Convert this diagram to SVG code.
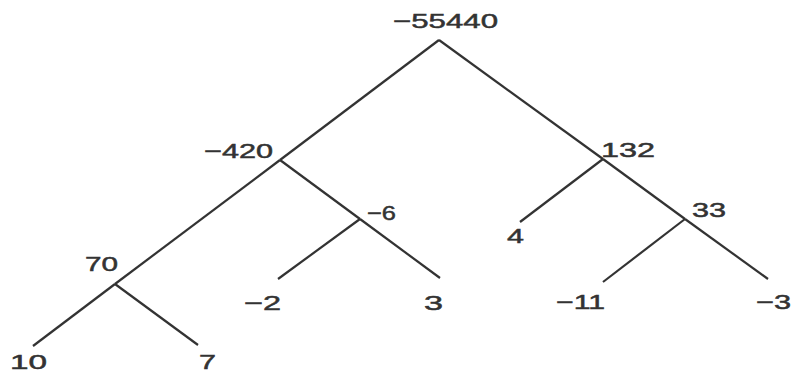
<svg xmlns="http://www.w3.org/2000/svg" width="792" height="373" viewBox="0 0 792 373">
<style>
.bg{fill:#ffffff}
.lbl{font-family:"Liberation Sans",Arial,sans-serif;font-size:21px;fill:#333333;stroke:#333333;stroke-width:0.5}
.edge{stroke:#333333;stroke-width:2.2;fill:none;stroke-linecap:butt}
</style>
<rect class="bg" x="0" y="0" width="792" height="373"/>
<g id="connectors">
<line class="edge" x1="439" y1="40" x2="280" y2="160"/>
<line class="edge" x1="280" y1="160" x2="115" y2="284"/>
<line class="edge" x1="115" y1="284" x2="33" y2="346"/>
<line class="edge" x1="115" y1="284" x2="198" y2="345"/>
<line class="edge" x1="280" y1="160" x2="360" y2="219"/>
<line class="edge" x1="360" y1="219" x2="440" y2="278"/>
<line class="edge" x1="360" y1="219" x2="278" y2="279"/>
<line class="edge" x1="439" y1="40" x2="603" y2="159"/>
<line class="edge" x1="603" y1="159" x2="685" y2="219"/>
<line class="edge" x1="685" y1="219" x2="768" y2="279"/>
<line class="edge" x1="603" y1="159" x2="520" y2="222"/>
<line class="edge" x1="685" y1="219" x2="603" y2="282"/>
</g>
<g id="n-55440"><text class="lbl" x="393" y="28" textLength="105" lengthAdjust="spacingAndGlyphs">−55440</text></g>
<g id="n-420"><text class="lbl" x="204" y="158" textLength="69" lengthAdjust="spacingAndGlyphs">−420</text></g>
<g id="n132"><text class="lbl" x="601" y="157" textLength="54" lengthAdjust="spacingAndGlyphs">132</text></g>
<g id="n70"><text class="lbl" x="85" y="271" textLength="33" lengthAdjust="spacingAndGlyphs">70</text></g>
<g id="n-6"><text class="lbl" x="367" y="220" textLength="29" lengthAdjust="spacingAndGlyphs">−6</text></g>
<g id="n4"><text class="lbl" x="507" y="243" textLength="17" lengthAdjust="spacingAndGlyphs">4</text></g>
<g id="n33"><text class="lbl" x="692" y="217" textLength="34" lengthAdjust="spacingAndGlyphs">33</text></g>
<g id="n10"><text class="lbl" x="10" y="369" textLength="37" lengthAdjust="spacingAndGlyphs">10</text></g>
<g id="n7"><text class="lbl" x="199" y="369" textLength="17" lengthAdjust="spacingAndGlyphs">7</text></g>
<g id="n-2"><text class="lbl" x="244" y="310" textLength="37" lengthAdjust="spacingAndGlyphs">−2</text></g>
<g id="n3"><text class="lbl" x="424" y="310" textLength="19" lengthAdjust="spacingAndGlyphs">3</text></g>
<g id="n-11"><text class="lbl" x="556" y="309" textLength="49" lengthAdjust="spacingAndGlyphs">−11</text></g>
<g id="n-3"><text class="lbl" x="756" y="309" textLength="35" lengthAdjust="spacingAndGlyphs">−3</text></g>
</svg>
